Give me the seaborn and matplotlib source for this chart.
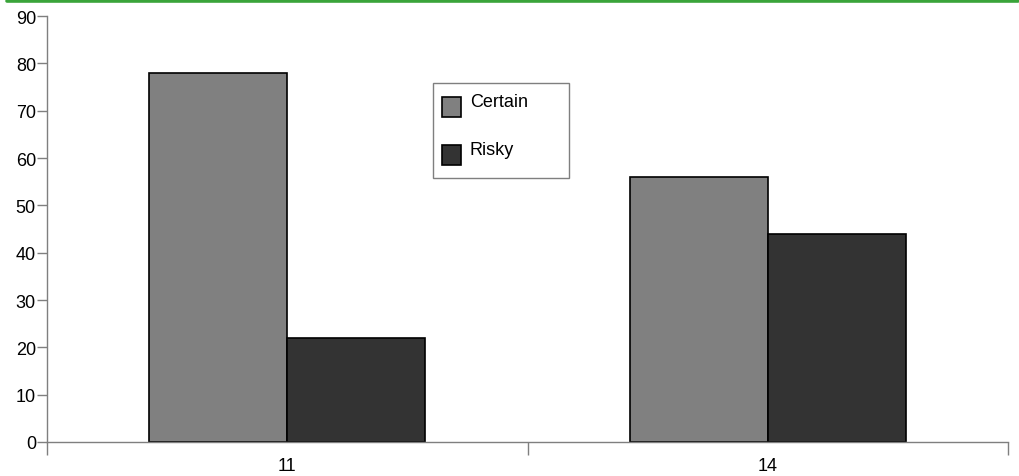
import matplotlib
matplotlib.use("Agg")
import matplotlib.pyplot as plt
from matplotlib.lines import Line2D
from matplotlib.patches import Rectangle
import seaborn as sns
import pandas as pd

# Percentage choosing each option, by condition
conditions = ["11", "14"]
options = ["Certain", "Risky"]
certain = [78, 56]
risky = [22, 44]
yticks = [0, 10, 20, 30, 40, 50, 60, 70, 80, 90]

colors = {"Certain": "#808080", "Risky": "#333333"}

df = pd.DataFrame({
    "condition": conditions * 2,
    "option": ["Certain"] * len(certain) + ["Risky"] * len(risky),
    "value": certain + risky,
})

sns.set_style("white")
plt.rcParams["font.family"] = ["Liberation Sans", "DejaVu Sans"]
plt.rcParams["text.color"] = "black"
plt.rcParams["xtick.labelcolor"] = "black"
plt.rcParams["ytick.labelcolor"] = "black"

FS = 13
W, H = 1020, 477
AX_L, AX_R, AX_T, AX_B = 47, 1008, 17, 443

fig = plt.figure(figsize=(W / 100, H / 100), dpi=100)
ax = fig.add_axes([AX_L / W, 1 - AX_B / H, (AX_R - AX_L) / W, (AX_B - AX_T) / H])

sns.barplot(data=df, x="condition", y="value", hue="option", order=conditions,
            hue_order=options, palette=colors, width=0.575, gap=0,
            edgecolor="black", linewidth=1.2, saturation=1, ax=ax, legend=False)

ax.set_xlim(-0.5, 1.5)
ax.set_ylim(0, 90)
ax.set_xlabel("")
ax.set_ylabel("")

# Axes styling
for side in ("top", "right"):
    ax.spines[side].set_visible(False)
for side in ("left", "bottom"):
    ax.spines[side].set_color("#7f7f7f")
    ax.spines[side].set_linewidth(1.0)

ax.set_yticks(yticks)
ax.tick_params(axis="y", which="major", length=7, width=1, color="#7f7f7f",
               direction="out", labelsize=FS, pad=1, left=True)
ax.set_xticks(range(len(conditions)))
ax.set_xticklabels(conditions)
ax.set_xticks([-0.5, 0.5, 1.5], minor=True)
ax.tick_params(axis="x", which="major", length=0, labelsize=FS, pad=11)
ax.tick_params(axis="x", which="minor", length=9, width=1, color="#7f7f7f",
               direction="out", bottom=True)


def px(x, y):
    """Pixel position in the figure -> axes fraction."""
    return (x - AX_L) / (AX_R - AX_L), (AX_B - y) / (AX_B - AX_T)


# Legend: framed box with a swatch and label per option
x0, y0 = px(433, 179)
x1, y1 = px(569, 84)
ax.add_patch(Rectangle((x0, y0), x1 - x0, y1 - y0, transform=ax.transAxes,
                       facecolor="white", edgecolor="#7f7f7f", linewidth=1.0,
                       zorder=5, clip_on=False))
for i, opt in enumerate(options):
    top = 98 + 48 * i
    sx0, sy0 = px(442, top + 20)
    sx1, sy1 = px(461, top)
    ax.add_patch(Rectangle((sx0, sy0), sx1 - sx0, sy1 - sy0, transform=ax.transAxes,
                           facecolor=colors[opt], edgecolor="black", linewidth=1.2,
                           zorder=6, clip_on=False))
    tx, ty = px(470, top + 9)
    ax.text(tx, ty, opt, transform=ax.transAxes, fontsize=FS, ha="left",
            va="baseline", color="black", zorder=7)

# Green rule along the top edge
fig.add_artist(Line2D([7 / W, 1018 / W], [1 - 1.5 / H, 1 - 1.5 / H],
                      color="#3aa43a", linewidth=2.6, transform=fig.transFigure))

fig.savefig("out.png", dpi=100)
